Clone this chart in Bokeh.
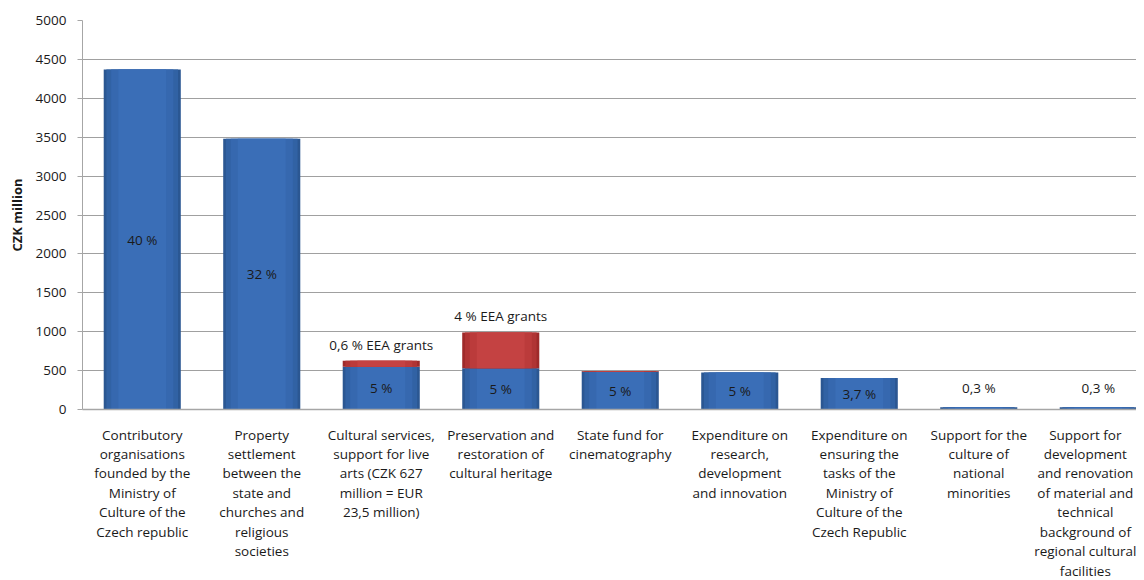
import numpy as np
from bokeh.plotting import figure
from bokeh.models import Range1d, FixedTicker, ColumnDataSource
from bokeh.core.properties import value
from bokeh.embed import file_html
from bokeh.resources import INLINE

categories = [
    "Contributory\norganisations\nfounded by the\nMinistry of\nCulture of the\nCzech republic",
    "Property\nsettlement\nbetween the\nstate and\nchurches and\nreligious\nsocieties",
    "Cultural services,\nsupport for live\narts (CZK 627\nmillion = EUR\n23,5 million)",
    "Preservation and\nrestoration of\ncultural heritage",
    "State fund for\ncinematography",
    "Expenditure on\nresearch,\ndevelopment\nand innovation",
    "Expenditure on\nensuring the\ntasks of the\nMinistry of\nCulture of the\nCzech Republic",
    "Support for the\nculture of\nnational\nminorities",
    "Support for\ndevelopment\nand renovation\nof material and\ntechnical\nbackground of\nregional cultural\nfacilities",
]
state_budget = [4370, 3480, 550, 530, 485, 475, 405, 30, 30]
eea_grants = [0, 0, 77, 460, 10, 0, 0, 0, 0]
pct_labels = ["40 %", "32 %", "5 %", "5 %", "5 %", "5 %", "3,7 %", "0,3 %", "0,3 %"]
eea_labels = ["", "", "0,6 % EEA grants", "4 % EEA grants", "", "", "", "", ""]
y_ticks = list(range(0, 5001, 500))

FONT = "Open Sans"
x = np.arange(len(categories))
blue = np.array(state_budget, dtype=float)
red = np.array(eea_grants, dtype=float)
total = blue + red

p = figure(width=1136, height=572, output_backend="svg", toolbar_location=None,
           x_range=Range1d(-0.5, 8.32), y_range=Range1d(0, 5000))
p.min_border_left = 82
p.min_border_right = 0
p.min_border_top = 20
p.min_border_bottom = 0
p.frame_height = 389
p.outline_line_color = None
p.background_fill_color = "white"
p.border_fill_color = "white"

# blue bars with layered shading
blue_layers = [(0.645, "#2b5792"), (0.60, "#3162a4"), (0.52, "#3668af"), (0.40, "#3a6eb7")]
for w, c in blue_layers:
    p.vbar(x=x, top=blue, bottom=0, width=w, fill_color=c, line_color=None)
red_layers = [(0.645, "#9e2a2a"), (0.60, "#b03434"), (0.52, "#bb3b3b"), (0.40, "#c44242")]
for w, c in red_layers:
    p.vbar(x=x, top=total, bottom=blue, width=w, fill_color=c, line_color=None)

# percentage labels
small = blue < 100
lab_y = np.where(small, blue + 240, blue / 2)
src = ColumnDataSource(dict(x=x, y=lab_y, t=pct_labels))
p.text(x="x", y="y", text="t", source=src, text_align="center", text_baseline="middle",
       text_font=value(FONT), text_font_size="13.5px", text_color="#1a1a1a")
src2 = ColumnDataSource(dict(x=x, y=total, t=eea_labels))
p.text(x="x", y="y", text="t", source=src2, text_align="center", text_baseline="middle",
       y_offset=-16, text_font=value(FONT), text_font_size="13.5px", text_color="#1a1a1a")

# axes
p.xaxis.ticker = FixedTicker(ticks=list(x))
p.xaxis.major_label_overrides = {int(i): c for i, c in zip(x, categories)}
p.xaxis.major_label_text_font = FONT
p.xaxis.major_label_text_font_size = "13.5px"
p.xaxis.major_label_text_color = "#1a1a1a"
p.xaxis.major_label_text_line_height = 1.08
p.xaxis.major_label_standoff = 10
p.xaxis.major_tick_line_color = None
p.xaxis.minor_tick_line_color = None
p.xaxis.axis_line_color = "#a6a6a6"
p.xaxis.axis_line_width = 1.5

p.yaxis.ticker = FixedTicker(ticks=y_ticks)
p.yaxis.major_label_text_font = FONT
p.yaxis.major_label_text_font_size = "13.5px"
p.yaxis.major_label_text_color = "#1a1a1a"
p.yaxis.major_tick_out = 5
p.yaxis.major_tick_in = 0
p.yaxis.major_tick_line_color = "#a6a6a6"
p.yaxis.minor_tick_line_color = None
p.yaxis.axis_line_color = "#a6a6a6"
p.yaxis.axis_label = "CZK million"
p.yaxis.axis_label_text_font = FONT
p.yaxis.axis_label_text_font_size = "13px"
p.yaxis.axis_label_text_font_style = "bold"
p.yaxis.axis_label_text_color = "#1a1a1a"
p.yaxis.axis_label_standoff = 7
p.yaxis.major_label_standoff = 11

p.xgrid.grid_line_color = None
p.ygrid.grid_line_color = "#a0a0a0"
p.ygrid.grid_line_width = 1

open("out.html", "w").write(file_html(p, INLINE))
